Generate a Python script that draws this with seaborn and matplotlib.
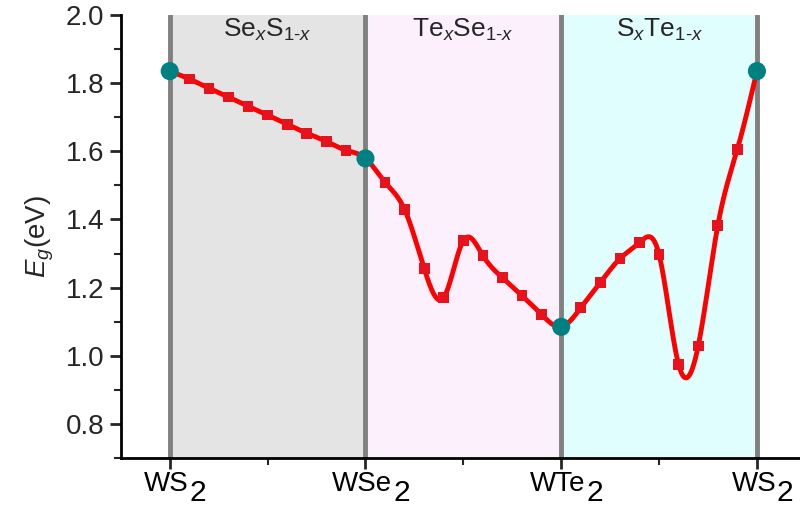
import numpy as np
import pandas as pd
import matplotlib
matplotlib.use("Agg")
import matplotlib.pyplot as plt
import seaborn as sns
from matplotlib.ticker import FixedLocator
from matplotlib.offsetbox import TextArea, HPacker, VPacker, DrawingArea, AnnotationBbox

# ---- data ----
end_names = ["WS", "WSe", "WTe", "WS"]
end_subs = ["2", "2", "2", "2"]
end_pos = [0, 10, 20, 30]
end_vals = [1.835, 1.579, 1.085, 1.835]
seg1_vals = [1.812, 1.785, 1.759, 1.732, 1.706, 1.679, 1.653, 1.629, 1.603]  # Se_x S_1-x
seg2_vals = [1.509, 1.429, 1.256, 1.171, 1.338, 1.294, 1.229, 1.176, 1.121]  # Te_x Se_1-x
seg3_vals = [1.141, 1.215, 1.285, 1.332, 1.297, 0.974, 1.029, 1.382, 1.606]  # S_x Te_1-x
band_labels = [r"Se$_{x}$S$_{\mathrm{1\text{-}}x}$",
               r"Te$_{x}$Se$_{\mathrm{1\text{-}}x}$",
               r"S$_{x}$Te$_{\mathrm{1\text{-}}x}$"]
band_colors = ["#e4e4e4", "#fdf0fd", "#e0fefe"]

sns.set_style("ticks")
plt.rcParams["font.family"] = ["Liberation Sans", "DejaVu Sans"]
plt.rcParams["mathtext.fontset"] = "custom"
plt.rcParams["mathtext.rm"] = "Liberation Sans"
plt.rcParams["mathtext.it"] = "Liberation Sans:italic"
plt.rcParams["mathtext.bf"] = "Liberation Sans:bold"

# assemble full series
seg_x = lambda s: [s + i for i in range(1, 10)]
sq_x = seg_x(0) + seg_x(10) + seg_x(20)
sq_y = seg1_vals + seg2_vals + seg3_vals
all_x = np.array(end_pos + sq_x, dtype=float)
all_y = np.array(end_vals + sq_y, dtype=float)
order = np.argsort(all_x)
all_x, all_y = all_x[order], all_y[order]


def natural_spline(x, y, xs):
    n = len(x)
    h = np.diff(x)
    A = np.zeros((n, n))
    b = np.zeros(n)
    A[0, 0] = A[-1, -1] = 1
    for i in range(1, n - 1):
        A[i, i - 1] = h[i - 1]
        A[i, i] = 2 * (h[i - 1] + h[i])
        A[i, i + 1] = h[i]
        b[i] = 3 * ((y[i + 1] - y[i]) / h[i] - (y[i] - y[i - 1]) / h[i - 1])
    c = np.linalg.solve(A, b)
    idx = np.clip(np.searchsorted(x, xs, side="right") - 1, 0, n - 2)
    dx = xs - x[idx]
    bb = (y[idx + 1] - y[idx]) / h[idx] - h[idx] * (2 * c[idx] + c[idx + 1]) / 3
    d = (c[idx + 1] - c[idx]) / (3 * h[idx])
    return y[idx] + bb * dx + c[idx] * dx ** 2 + d * dx ** 3


xs = np.linspace(all_x[0], all_x[-1], 1500)
ys = natural_spline(all_x, all_y, xs)

fig = plt.figure(figsize=(8, 5.13), dpi=100)
ax = fig.add_axes([0.151, 0.107, 0.849, 0.864])

for i in range(3):
    ax.axvspan(end_pos[i], end_pos[i + 1], color=band_colors[i], lw=0, zorder=0)
    ax.text((end_pos[i] + end_pos[i + 1]) / 2, 1.955, band_labels[i],
            ha="center", va="center", fontsize=19, zorder=5)
for p in end_pos:
    ax.axvline(p, color="#808080", lw=3.5, zorder=1)

sns.lineplot(x=xs, y=ys, color="#ff0000", lw=3.5, ax=ax, zorder=3, sort=False)
sns.scatterplot(x=sq_x, y=sq_y, marker="s", s=60, color="#e8121c",
                edgecolor="none", ax=ax, zorder=4)
sns.scatterplot(x=end_pos, y=end_vals, marker="o", s=170, color="#008080",
                edgecolor="none", ax=ax, zorder=6, clip_on=False)

ax.set_xlim(-2.5, 32.2)
ax.set_ylim(0.7, 2.0)
ax.set_xticks(end_pos)
ax.set_xticklabels([])
ax.xaxis.set_minor_locator(FixedLocator([5, 15, 25]))
ax.yaxis.set_major_locator(FixedLocator([0.8, 1.0, 1.2, 1.4, 1.6, 1.8, 2.0]))
ax.set_yticklabels(["0.8", "1.0", "1.2", "1.4", "1.6", "1.8", "2.0"])
ax.yaxis.set_minor_locator(FixedLocator([0.7, 0.9, 1.1, 1.3, 1.5, 1.7, 1.9]))
ax.tick_params(which="major", length=8, width=2, labelsize=20, pad=4, direction="out")
ax.tick_params(which="minor", length=5, width=1.5, direction="out")
ax.set_ylabel(r"$E_g$(eV)", fontsize=20, labelpad=7)
ax.set_xlabel("")
for s in ["top", "right"]:
    ax.spines[s].set_visible(False)
for s in ["left", "bottom"]:
    ax.spines[s].set_linewidth(2)
    ax.spines[s].set_color("black")

# x tick labels with large, lowered subscript (as in the original)
for p, name, sub in zip(end_pos, end_names, end_subs):
    main = TextArea(name, textprops=dict(fontsize=20, color="black"))
    low = VPacker(children=[DrawingArea(0, 6), TextArea(sub, textprops=dict(fontsize=21.5, color="black"))],
                  pad=0, sep=0, align="left")
    pack = HPacker(children=[main, low], pad=0, sep=0.5, align="top")
    ab = AnnotationBbox(pack, (p, 0), xycoords=("data", "axes fraction"),
                        xybox=(4, -9), boxcoords="offset points",
                        box_alignment=(0.5, 1.0), frameon=False,
                        annotation_clip=False, pad=0)
    ax.add_artist(ab)

fig.savefig("out.png", dpi=100)
